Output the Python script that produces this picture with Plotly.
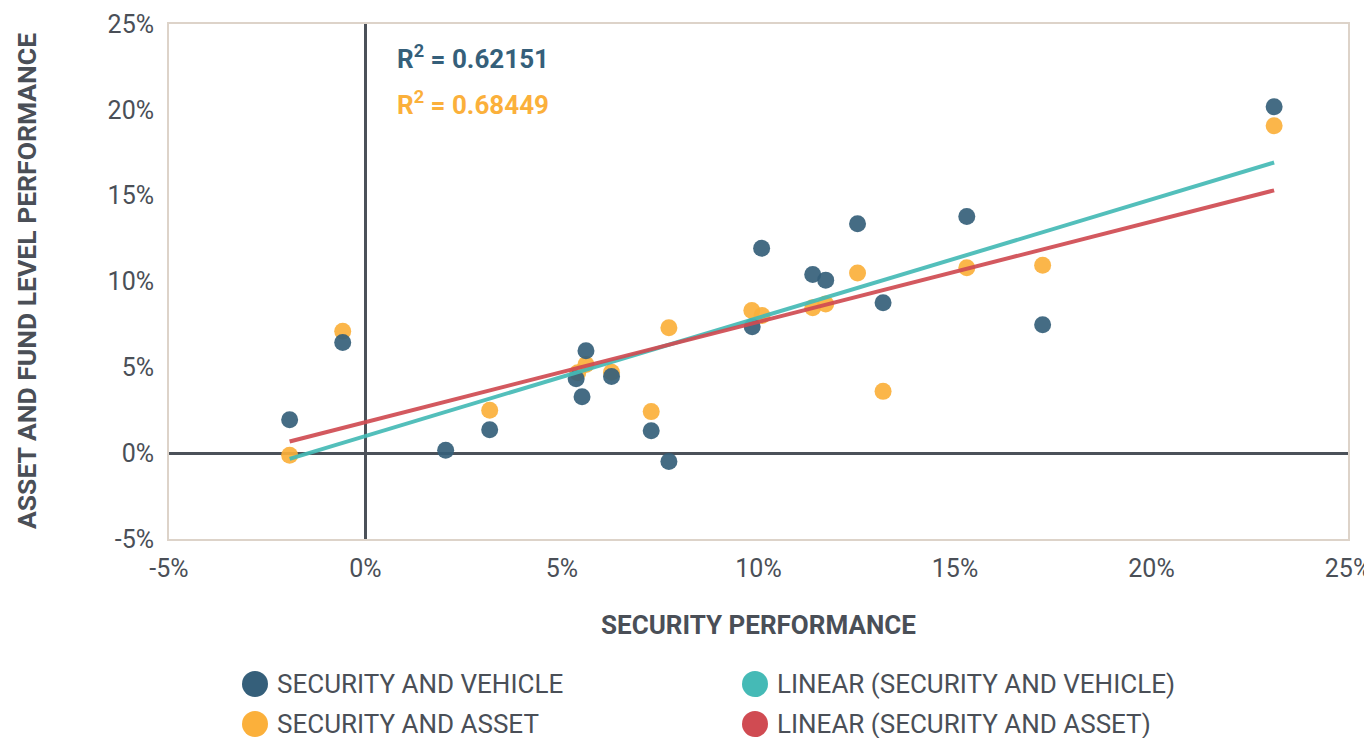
import plotly.graph_objects as go

# ---- data (percent) ----
sv_x = [-1.93, -0.58, 2.04, 3.16, 5.36, 5.51, 5.61, 6.26, 7.27, 7.72, 9.84, 10.08, 11.38, 11.71, 12.52, 13.17, 15.30, 17.23, 23.12]
sv_y = [1.95, 6.45, 0.17, 1.37, 4.34, 3.29, 5.97, 4.47, 1.31, -0.49, 7.36, 11.94, 10.41, 10.08, 13.36, 8.76, 13.78, 7.48, 20.18]

sa_x = [-1.93, -0.58, 3.16, 5.40, 5.61, 6.26, 7.27, 7.72, 9.83, 10.09, 11.38, 11.71, 12.52, 13.17, 15.30, 17.23, 23.12]
sa_y = [-0.12, 7.10, 2.50, 4.68, 5.16, 4.71, 2.42, 7.30, 8.31, 8.02, 8.47, 8.69, 10.49, 3.60, 10.80, 10.95, 19.07]

trend_x = [-1.93, 23.12]
trend_sv_y = [-0.33, 16.93]
trend_sa_y = [0.68, 15.31]

r2_sv = "0.62151"
r2_sa = "0.68449"

tick_vals = [-5, 0, 5, 10, 15, 20, 25]
tick_text = ["-5%", "0%", "5%", "10%", "15%", "20%", "25%"]

x_title = "SECURITY PERFORMANCE"
y_title = "ASSET AND FUND LEVEL PERFORMANCE"

legend_labels = ["SECURITY AND VEHICLE", "LINEAR (SECURITY AND VEHICLE)",
                 "SECURITY AND ASSET", "LINEAR (SECURITY AND ASSET)"]

# ---- styles ----
C_BLUE = "#355f7a"
C_ORANGE = "#fbb03b"
C_TEAL = "#45bab6"
C_RED = "#d04b52"
C_TEXT = "#4a4f57"
C_FRAME = "#ddd3c9"
FONT = "Roboto, DejaVu Sans, sans-serif"

fig = go.Figure()
fig.add_trace(go.Scatter(x=sa_x, y=sa_y, mode="markers", name=legend_labels[2],
                         marker=dict(color=C_ORANGE, size=17, opacity=0.92, line=dict(width=0)),
                         showlegend=False))
fig.add_trace(go.Scatter(x=sv_x, y=sv_y, mode="markers", name=legend_labels[0],
                         marker=dict(color=C_BLUE, size=17, opacity=0.92, line=dict(width=0)),
                         showlegend=False))
fig.add_trace(go.Scatter(x=trend_x, y=trend_sv_y, mode="lines", name=legend_labels[1],
                         line=dict(color=C_TEAL, width=4), opacity=0.92, showlegend=False))
fig.add_trace(go.Scatter(x=trend_x, y=trend_sa_y, mode="lines", name=legend_labels[3],
                         line=dict(color=C_RED, width=4), opacity=0.92, showlegend=False))

axis_common = dict(
    range=[-5, 25], tickmode="array", tickvals=tick_vals, ticktext=tick_text,
    showgrid=False, zeroline=True, zerolinecolor="#4b5159", zerolinewidth=3,
    showline=True, mirror=True, linecolor=C_FRAME, linewidth=2,
    ticks="", tickfont=dict(family=FONT, size=25, color=C_TEXT),
    automargin=False, ticklabeloverflow="allow",
)

# the page body adds an 8px offset; figure is sized/margined so the plot
# area lands at page pixels x 169..1348, y 24..539
fig.update_layout(
    width=1364, height=730,
    margin=dict(l=161, r=24, t=16, b=199),
    paper_bgcolor="white", plot_bgcolor="white",
    font=dict(family=FONT, color=C_TEXT),
    xaxis=dict(**axis_common, ticklabelstandoff=6),
    yaxis=dict(**axis_common, ticklabelstandoff=8),
)

plot_l, plot_w, plot_b, plot_h = 169, 1179, 539, 515
def px2paper(px, py):
    return (px - plot_l) / plot_w, (plot_b - py) / plot_h

# axis titles
tx, ty = px2paper(758, 625)
fig.add_annotation(x=tx, y=ty, xref="paper", yref="paper", xanchor="center", yanchor="middle",
                   text=f"<b>{x_title}</b>", showarrow=False,
                   font=dict(family=FONT, size=26, color=C_TEXT))
tx, ty = px2paper(26, 281)
fig.add_annotation(x=tx, y=ty, xref="paper", yref="paper", xanchor="center", yanchor="middle",
                   text=f"<b>{y_title}</b>", showarrow=False, textangle=-90, borderpad=0,
                   font=dict(family=FONT, size=26.5, color=C_TEXT))

# R^2 labels
tx, ty = px2paper(395, 57)
fig.add_annotation(x=tx, y=ty, xref="paper", yref="paper", xanchor="left", yanchor="middle",
                   text=f"<b>R<sup>2</sup> = {r2_sv}</b>", showarrow=False,
                   font=dict(family=FONT, size=26, color=C_BLUE))
tx, ty = px2paper(395, 103)
fig.add_annotation(x=tx, y=ty, xref="paper", yref="paper", xanchor="left", yanchor="middle",
                   text=f"<b>R<sup>2</sup> = {r2_sa}</b>", showarrow=False,
                   font=dict(family=FONT, size=26, color=C_ORANGE))

# custom legend (2 x 2), positions in page pixels
leg_items = [
    (legend_labels[0], C_BLUE, 255, 684),
    (legend_labels[1], C_TEAL, 755, 684),
    (legend_labels[2], C_ORANGE, 255, 724),
    (legend_labels[3], C_RED, 755, 724),
]
for label, color, cx, cy in leg_items:
    xp, yp = px2paper(cx, cy)
    fig.add_shape(type="circle", xref="paper", yref="paper",
                  xsizemode="pixel", ysizemode="pixel", xanchor=xp, yanchor=yp,
                  x0=-13, x1=13, y0=-13, y1=13,
                  fillcolor=color, line=dict(width=0))
    tx, ty = px2paper(cx + 20, cy)
    fig.add_annotation(x=tx, y=ty, xref="paper", yref="paper", xanchor="left", yanchor="middle",
                       text=label, showarrow=False,
                       font=dict(family=FONT, size=26, color=C_TEXT))

fig.write_html("out.html")
